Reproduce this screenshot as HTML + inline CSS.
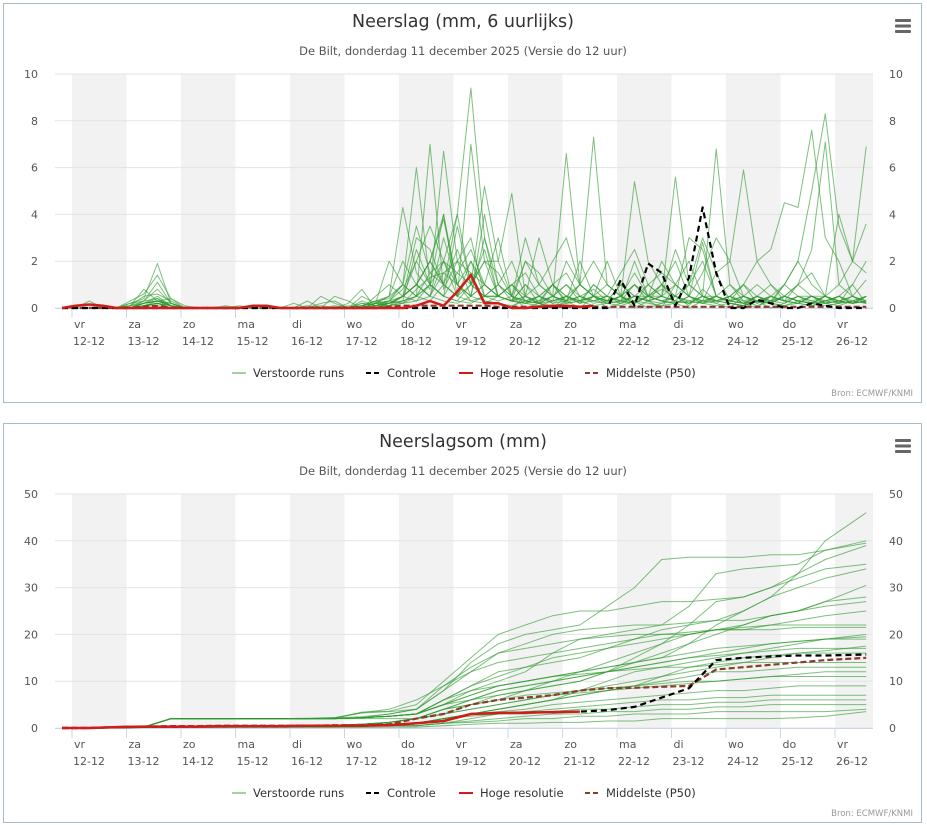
<!DOCTYPE html>
<html><head><meta charset="utf-8">
<style>
html,body{margin:0;padding:0;background:#fff;}
svg{display:block;font-family:"DejaVu Sans","Liberation Sans",sans-serif;}
</style></head>
<body>
<svg id="svg" width="927" height="825" xmlns="http://www.w3.org/2000/svg"></svg>
<script>
// ---------- DATA ----------
const dayNames = ["vr","za","zo","ma","di","wo","do","vr","za","zo","ma","di","wo","do","vr"];
const dayDates = ["12-12","13-12","14-12","15-12","16-12","17-12","18-12","19-12","20-12","21-12","22-12","23-12","24-12","25-12","26-12"];
const precipTicks = [0,2,4,6,8,10];
const cumTicks = [0,10,20,30,40,50];
// 6-hourly precipitation ensemble members (60 steps)
const precipMembers = [
[0,0,.3,0, 0,.2,.4,1.9, .2,0,0,0, 0,0,0,0, 0,0,0,0, 0,0,.1,.3, .4,1,.5,7, .8,2,1.5,.3, .2,0,.5,.2, 0,.3,1,.5, 0,.2,.5,.3, 1,.2,0,.3, .2,0,.5,.3, 0,.2,.5,.5, .2,.3,.2,.5],
[0,0,0,.1, 0,.3,.6,1.4, .4,0,0,0, .1,0,0,0, 0,0,0,.2, .3,0,0,.2, .5,4.3,1.5,.8, 6.7,2,.5,1, 3,.5,0,.2, 1,.3,0,.5, 2,.5,0,.3, 0,1,.5,.2, .3,.2,.1,.5, .2,1,.5,.3, .5,.2,1,.2],
[0,0,0,0, 0,.1,.8,.3, .4,.1,0,0, 0,0,0,0, 0,0,0,.5, .2,0,0,.5, 1,.5,3,2.5, 1,4,9.4,3, .5,1,.3,.2, 0,.5,.2,1, .5,.2,.3,0, .2,.5,.1,.8, .3,.5,.2,0, .5,.3,.2,.1, .3,.5,.2,.3],
[0,0,0,0, 0,.2,.3,1.1, .2,0,0,0, 0,.1,0,0, 0,0,.3,0, 0,0,.5,.2, 2,1,6,1, 4,.5,7,2, 1.5,.5,.3,.2, .5,1,.3,.5, .2,.5,1,.3, .5,.3,.2,.5, .5,.2,.1,.3, .2,.5,.3,.2, .1,.2,.3,.5],
[0,0,0,0, 0,.1,.5,.6, .3,0,0,0, 0,0,0,0, 0,0,.1,0, .5,.3,0,.1, .3,.8,2,3.5, 2,4,1,5.2, 2,4.9,.5,.3, 1,1.5,.5,.8, .3,1,.5,.5, 1,2,.5,.3, 1.5,.3,.5,.2, .5,.3,.2,.5, .3,.5,.2,.3],
[0,0,0,0, 0,0,.2,.5, .1,0,0,0, 0,0,0,0, 0,0,0,0, 0,.2,.8,0, .2,.5,1,2, 3.8,1,2,.5, .5,.3,1,.2, .5,6.6,1,.5, .3,.5,.2,1, .5,.3,1,.5, .2,.5,.3,.1, .3,.2,.5,.3, .2,.3,.5,.2],
[0,0,0,0, 0,.1,.2,.3, .2,0,0,0, 0,0,0,0, 0,.2,0,0, 0,0,.1,.3, .5,1,.5,1.5, 2,1,.5,3, 1,2,.5,1, 2,3,1,7.3, 1,.5,.3,.5, .3,.2,.5,.2, .5,.3,.2,.5, .2,.1,.3,.2, .5,.2,.3,.5],
[0,0,0,0, 0,0,.3,.8, .2,0,0,0, 0,0,0,0, 0,0,0,0, .1,0,.3,.1, .2,.5,1,2, 1,2.5,1,2, .5,.3,2,1.5, .5,.3,1,2, 1,.5,5.4,2, 1,.5,1,2, .5,.3,.2,.5, 1,.3,.5,.2, .3,.5,.2,.3],
[0,0,0,0, 0,.1,.3,.4, .1,0,0,0, 0,0,0,0, 0,0,0,.1, 0,0,0,.2, .3,.2,.8,1.3, 1.5,2,3,.5, 1,.5,.3,.5, 1,.2,.5,.3, .5,1.5,2.5,1, .5,5.6,1,.5, .3,.5,1,.2, .5,.3,1,.5, .2,.5,.3,.2],
[0,0,0,0, 0,0,.2,.3, .1,0,0,0, 0,0,0,0, 0,0,0,0, 0,0,.2,.1, .2,.3,.5,1, 2,1.5,1,.5, .5,1,1.5,.5, .3,.5,.2,.5, .3,1,.5,1, 1.5,1,2,.5, 6.8,1,.5,.3, .5,.3,.2,.5, .3,.2,.5,.3],
[0,0,0,0, 0,0,.1,.2, .1,0,0,0, 0,0,0,0, 0,0,0,0, 0,0,0,.2, .1,.5,1,.5, 1.5,1,.3,.5, .5,.3,.2,.5, .2,.3,.5,.3, .2,.3,.5,.3, .5,1,.5,1.5, 3,2,5.9,2, 1,.5,.3,.2, .5,.3,.2,.5],
[0,0,0,0, 0,0,.1,.2, 0,0,0,0, 0,0,0,0, 0,0,0,0, 0,0,.1,0, .1,.2,.5,.3, 1,.5,.3,.2, .5,.3,.2,.1, .3,.5,.2,.3, .5,.3,.2,.5, .3,.2,.5,.3, .3,.5,1,2, 2.5,4.5,4.3,7.6, 3,2,.5,.3],
[0,0,0,0, 0,0,.2,.4, .1,0,0,0, 0,0,0,0, 0,0,0,0, 0,.1,0,.2, .5,2,1,.5, 3,1,.5,4, 1,.3,.5,.2, .3,.5,1,.5, .2,.3,.5,.3, .5,.3,.2,.5, .3,.5,.2,.3, .5,1,2,5, 8.3,3.5,2,1.5],
[0,0,0,0, 0,0,.1,.3, .2,0,0,0, 0,0,0,0, 0,0,0,0, 0,0,.2,.1, .3,.5,2,1, .5,1.5,2.5,1, .5,1,.5,3, 1,.5,.3,.5, .5,.3,1,.5, .3,.5,.2,.3, .5,.3,.2,.5, .3,.5,1,2.5, 7.1,1,.5,.2],
[0,0,0,0, 0,0,.2,.3, .1,0,0,0, 0,0,0,0, 0,0,0,0, 0,0,.1,.2, .2,.5,1,.5, 2,.5,1,.5, 1,.5,2,1, .5,.3,2,.5, .3,.5,.2,.5, .3,.2,.5,.3, .5,.3,.5,.3, .2,.5,.3,.5, .5,1,2,6.9],
[0,0,0,0, 0,0,.1,.2, .1,0,0,0, 0,0,0,0, 0,0,0,0, 0,0,0,.1, .2,.3,.5,1, .5,.3,1,2.5, .5,1,.3,.5, .2,.5,.3,1, .5,.3,.2,.5, .3,.5,.3,.2, .5,.3,.5,.3, .2,.5,1,1.5, .5,4,2,3.6],
[0,0,0,0, 0,0,.2,.3, .1,0,0,0, 0,0,0,0, 0,0,0,0, 0,0,.1,.3, .2,.5,1,2, 1,.5,1.5,1, .5,.3,.2,.5, 1,.5,.3,.5, .3,.5,1,.5, .5,2.5,1,3, 1.5,2,.5,1, .5,.3,.2,.5, .2,.3,.5,1.2],
[0,0,0,0, 0,0,.1,.2, 0,0,0,0, 0,0,0,0, 0,0,0,0, 0,0,0,.1, .1,.3,2.5,1, .5,3.5,1,2, 2,.5,3,1, .5,.3,.5,.2, .3,.2,.5,.3, .2,.3,.2,.5, .3,.2,.1,.3, .2,.5,.3,.2, .5,.3,.2,.3],
[0,0,0,0, 0,0,.1,.1, 0,0,0,0, 0,0,0,0, 0,0,0,0, 0,0,0,0, .1,.2,.3,.5, .3,.2,.5,.3, .2,.1,.3,.2, .1,.2,.3,.1, .2,.1,.3,.2, .1,.2,.3,.2, .1,.2,.1,.3, .2,.1,.2,.1, .2,.1,.3,.2],
[0,0,0,0, 0,0,.1,.2, 0,0,0,0, 0,0,0,0, 0,0,0,0, 0,0,.1,0, .2,.5,.3,1, .5,.3,.2,.5, .3,.5,.2,.3, .5,.2,.3,.5, .3,.5,.2,.5, .8,.5,.3,.5, .3,.5,.2,.3, .2,.5,.3,.2, .3,.5,1,2],
[0,0,0,0, 0,0,.2,.3, .1,0,0,0, 0,0,0,0, 0,0,0,0, 0,0,0,.2, .3,1,3.5,1.5, 1,.5,2,1, .5,.3,1,.5, .3,2,1,.5, 1,.5,1.5,.5, 2,1,.5,2.8, .5,1,.3,.5, .3,1,2,1, .5,.3,.2,.5],
[0,0,0,0, 0,0,.1,.2, 0,0,0,0, 0,0,0,0, 0,0,0,0, 0,0,0,0, .2,.5,1,2, 4,1,.5,1, .5,.3,.5,.2, .5,1,.5,.3, .5,.3,2,.5, 1,.5,3,2.5, .5,.3,1,.5, .3,.5,.3,.2, .5,.3,.2,.5]
];
const precipControl = [0,0,0,0, 0,0,0,0, 0,0,0,0, 0,0,0,0, 0,0,0,0, 0,0,0,0, 0,0,0,0, 0,0,0,0, 0,0,0,0, 0,0,0,0, 0,1.2,.1,1.9, 1.5,.1,1.3,4.3, 1.5,0,0,.35, .2,0,0,.2, .1,0,0,0];
const precipHighRes = [0,.1,.15,.1, 0,0,0,0, 0,0,0,0, 0,0,.1,.1, 0,0,0,0, 0,0,0,0, 0,0,.1,.3, .1,.7,1.4,.2, .2,0,0,.05, .1,.1,.05,.1];
const precipMedian = [0,0,0,0, 0,0,.05,.1, 0,0,0,0, 0,0,0,0, 0,0,0,0, 0,0,0,0, .05,.1,.1,.1, .1,.1,.1,.1, .05,.05,.05,.05, .05,.05,.05,.05, .05,.05,.05,.05, .05,.05,.05,.05, .05,.05,.05,.05, .05,.05,.05,.05, .05,.05,.05,.05];

// cumulative: time index (6h units) of each point
const cumTimes = [0,2,4,6,8,10,12,14,16,18,20,22,24,26,28,30,32,34,36,38,40,42,44,46,48,50,52,54,56,59];
const cumMembers = [
[0,0,0,.2,2,2,2,2,2,2,2,2.2,2.5, 3,6,9,12,13,14,15,17,19,21,22,23,25,28,33,40,46],
[0,0,0,.2,2,2,2,2,2,2.1,2.2,2.4,3, 4,8,14,18,20,21,22,26,30,36,36.5,36.5,36.5,37,37,38,40],
[0,0,0,.2,2,2,2,2,2,2,2,2.2,2.5, 3,5,8,10,12,16,19,20,21,22,26,33,34,34.5,35,38,39.5],
[0,0,.1,.2,.3,.3,.4,.4,.5,.5,.6,.8,1.2, 2,4,6,8,9,10,11,12,15,18,22,27,28,30,33,36,39],
[0,0,0,.2,2,2,2,2,2,2,2.1,3.4,3.6, 5,10,15,20,22,24,25,25,26,27,27,27.5,28,30,32,34,35],
[0,0,0,.2,2,2,2,2,2,2,2,2.2,2.5, 3,5,7,9,10,11,12,13,14,15,18,22,25,28,30,32,34],
[0,0,.1,.2,.3,.3,.4,.4,.5,.5,.6,.8,1.2, 2,4,5,7,8,9,10,12,14,16,18,20,22,24,25,27,30.5],
[0,0,0,.2,2,2,2,2,2,2,2.2,3.2,3.5, 4,8,12,16,18,20,21,21.5,22,22,22.5,23,23,24,25,27,28],
[0,0,0,.2,2,2,2,2,2,2,2,2.2,2.5, 3,6,9,11,13,15,16,17,18,19,20,21,22,24,25,26,27],
[0,0,.1,.2,.3,.3,.4,.4,.5,.5,.6,.8,1.2, 2,3,5,6,8,10,12,14,16,18,20,21,21.5,22,22,22,22],
[0,0,0,.2,2,2,2,2,2,2,2.2,3.3,4, 6,9,12,14,15,16,17,18,19,20,20,21,21,21,21.5,21.5,21.5],
[0,0,.1,.2,.3,.3,.3,.4,.4,.5,.5,.6,.8, 1,2,3,4,5,6,8,10,12,13,14,15,16,17,18,19,20],
[0,0,0,.2,2,2,2,2,2,2,2,2.2,2.5, 3,5,7,9,10,11,12,13,14,15,16,17,17.5,18,18.5,19,19],
[0,0,.1,.2,.3,.3,.4,.4,.5,.5,.6,.8,1.2, 2,4,6,8,9,10,11,12,13,14,15,15.5,16,16.5,17,17,17],
[0,0,.1,.2,.3,.3,.3,.4,.4,.5,.5,.6,.8, 1,2,3,4,5,6,7,8,9,11,13,14,15,15.5,16,16,16],
[0,0,0,.2,2,2,2,2,2,2,2,2.2,2.5, 3,6,8,9,10,11,11.5,12,12.5,13,13,13.5,14,14,14,14,14],
[0,0,.1,.2,.3,.3,.3,.4,.4,.5,.5,.6,.8, 1,2,3,4,5,6,7,8,9,10,11,12,12,12.5,13,13,13],
[0,0,.1,.2,.3,.3,.4,.4,.5,.5,.6,.8,1.2, 2,4,5,6,7,7.5,8,8.5,9,9.5,10,10,10.5,11,11,11,11],
[0,0,.1,.2,.3,.3,.3,.4,.4,.5,.5,.6,.8, 1,2,3,3.5,4,5,5.5,6,6.5,7,7.5,8,8,8.5,9,9,9],
[0,0,.1,.2,.3,.3,.3,.4,.4,.5,.5,.6,.8, 1,2,2.5,3,3.5,4,4.5,5,5.5,6,6,6.5,6.5,7,7,7,7],
[0,0,0,.1,.2,.2,.2,.3,.3,.3,.3,.4,.5, .5,1,1.5,2,2.5,3,3,3.5,3.5,4,4,4.5,4.5,5,5,5,5],
[0,0,0,.1,.2,.2,.2,.3,.3,.3,.3,.4,.5, .5,1,1.2,1.5,2,2,2.5,2.5,3,3,3,3.5,3.5,3.5,3.5,3.5,4],
[0,0,0,.1,.1,.1,.1,.1,.1,.1,.1,.1,.2, .2,.5,.8,1,1,1.2,1.2,1.5,1.5,2,2,2,2,2,2.2,2.5,3.5],
[0,0,0,.2,2,2,2,2,2,2,2,2.2,3, 4,9,13,16,17,18,19,19.5,20,20,20.5,21,21,22,23,24,25],
[0,0,0,.2,2,2,2,2,2,2,2,2,2, 2,3,4,5,6,7,7.5,8,8.5,9,9.5,10,10.5,11,11.5,12,12],
[0,0,0,.1,.2,.2,.2,.3,.3,.3,.3,.4,.5, .5,1,2,3,3,3.5,4,4,4.5,5,5,5.5,5.5,6,6,6,6],
[0,0,0,.2,2,2,2,2,2,2,2,2.2,2.5, 3,5,6,7,8,9,10,12,13,14,15,16,17,18,18.5,19,19.5],
[0,0,.1,.2,.3,.3,.4,.4,.5,.5,.6,.8,1.2, 2,3,4,5,6,7,8,9,10,11,12,13,14,15,16,16.5,17.5]
];
const cumControl = [0,0,.2,.3,.3,.3,.4,.4,.4,.5,.5,.5,.6, 1,1.5,3,3.2,3.3,3.4,3.5,3.8,4.5,6.5,8.5,14.5,15,15.3,15.5,15.5,15.7];
const cumHighRes = [0,0,.2,.3,.3,.3,.4,.4,.4,.5,.5,.5,.6, 1,1.5,3,3.2,3.3,3.4,3.5];
const cumMedian = [0,0,.2,.3,.4,.4,.5,.5,.5,.5,.6,.6,.8, 2,3,5,6,6.5,7,8,8.5,8.6,8.8,9,12.5,13,13.5,14,14.5,15];

// ---------- RENDER ----------
const NS = "http://www.w3.org/2000/svg";
const svg = document.getElementById("svg");
function mk(tag, attrs, parent) {
  const e = document.createElementNS(NS, tag);
  for (const k in attrs) e.setAttribute(k, attrs[k]);
  (parent || svg).appendChild(e);
  return e;
}
const X0 = 55, X1 = 873, DAY0 = 72, DAYW = 54.5, TSTART = 62, TSTEP = 13.63;
function xDay(k) { return DAY0 + k * DAYW; }
function xT(t) { return TSTART + t * TSTEP; }

function panel(cfg) {
  const g = mk("g", {});
  
  
  const yS = v => cfg.yBot - (v / cfg.yMax) * (cfg.yBot - cfg.yTop);
  const frame = mk("rect", {x: 3.5, y: cfg.top + .5, width: 918, height: cfg.h, fill: "#fff", stroke: "#a7bccb", "stroke-width": 1}, g);
  
  
  const t = mk("text", {x: 463, y: cfg.top + 24, "text-anchor": "middle", "font-size": 17.5, fill: "#333"}, g);
  t.textContent = cfg.title;
  
  
  const st = mk("text", {x: 463, y: cfg.top + 52, "text-anchor": "middle", "font-size": 11.5, fill: "#555"}, g);
  st.textContent = "De Bilt, donderdag 11 december 2025 (Versie do 12 uur)";
  
  
  const menu = mk("g", {}, g);
  
  
  for (let i = 0; i < 3; i++) mk("rect", {x: 895, y: cfg.top + 16 + i * 5.5, width: 16, height: 3, rx: 1, fill: "#666"}, menu);
  for (let k = 0; k < dayNames.length; k += 2) {
    const b = mk("rect", {x: xDay(k), y: cfg.yTop, width: Math.min(DAYW, X1 - xDay(k)), height: cfg.yBot - cfg.yTop, fill: "#f2f2f2"}, g);
    
    
  }
  cfg.ticks.forEach(v => {
    const y = yS(v);
    mk("line", {x1: X0, x2: X1, y1: y, y2: y, stroke: "#e3e3e3", "stroke-width": 1}, g);
    const l = mk("text", {x: 38, y: y + 4, "text-anchor": "end", "font-size": 11, fill: "#555"}, g);
    l.textContent = v;
    
    
    const r = mk("text", {x: 889, y: y + 4, "text-anchor": "start", "font-size": 11, fill: "#555"}, g);
    r.textContent = v;
    
    
  });
  mk("line", {x1: X0, x2: X1, y1: cfg.yBot + .5, y2: cfg.yBot + .5, stroke: "#ccd6eb", "stroke-width": 1}, g);
  dayNames.forEach((d, k) => {
    const x = xDay(k);
    mk("line", {x1: x, x2: x, y1: cfg.yBot, y2: cfg.yBot + 10, stroke: "#ccd6eb"}, g);
    const a = mk("text", {x: x + 2, y: cfg.yBot + 20, "font-size": 11, fill: "#555"}, g);
    a.textContent = d;
    
    
    const b = mk("text", {x: x + 1, y: cfg.yBot + 37, "font-size": 11, fill: "#555"}, g);
    b.textContent = dayDates[k];
    
    
  });
  function line(vals, times, style, name) {
    const pts = vals.map((v, i) => xT(times ? times[i] : i).toFixed(1) + "," + yS(v).toFixed(1)).join(" ");
    const p = mk("polyline", Object.assign({points: pts, fill: "none", "stroke-linejoin": "round"}, style), g);
    
    
  }
  cfg.members.forEach(m => line(m, cfg.times, {stroke: "#2f9a2f", "stroke-width": 1, "stroke-opacity": .62}, "ensemble-member-line"));
  line(cfg.median, cfg.times, {stroke: "#8c3b2c", "stroke-width": 2.2, "stroke-dasharray": "6,3"}, "median-p50-line");
  line(cfg.control, cfg.times, {stroke: "#000", "stroke-width": 2.2, "stroke-dasharray": "6,4"}, "control-line");
  line(cfg.highres, cfg.times, {stroke: "#d21c1c", "stroke-width": 2.5}, "high-resolution-line");
  const ly = cfg.top + cfg.h - 25;
  const items = [
    {x: 232, label: "Verstoorde runs", stroke: "#2f9a2f", op: .45, dash: "", w: 2, name: "legend-perturbed-runs"},
    {x: 366, label: "Controle", stroke: "#000", op: 1, dash: "5,3", w: 2, name: "legend-control"},
    {x: 459, label: "Hoge resolutie", stroke: "#d21c1c", op: 1, dash: "", w: 2, name: "legend-high-resolution"},
    {x: 585, label: "Middelste (P50)", stroke: "#8c3b2c", op: 1, dash: "5,3", w: 2, name: "legend-median"}
  ];
  items.forEach(it => {
    const lg = mk("g", {}, g);
    
    
    mk("line", {x1: it.x, x2: it.x + 14, y1: ly - 4, y2: ly - 4, stroke: it.stroke, "stroke-opacity": it.op, "stroke-width": it.w, "stroke-dasharray": it.dash}, lg);
    const tx = mk("text", {x: it.x + 21, y: ly, "font-size": 11.5, fill: "#333"}, lg);
    tx.textContent = it.label;
  });
  const src = mk("text", {x: 913, y: cfg.top + cfg.h - 6, "text-anchor": "end", "font-size": 8.5, fill: "#999"}, g);
  src.textContent = "Bron: ECMWF/KNMI";
  
  
}

panel({name: "precipitation-chart", top: 3, h: 399, title: "Neerslag (mm, 6 uurlijks)", yTop: 74, yBot: 308, yMax: 10,
  ticks: precipTicks, members: precipMembers, control: precipControl, highres: precipHighRes, median: precipMedian, times: null});
panel({name: "cumulative-precipitation-chart", top: 423, h: 399, title: "Neerslagsom (mm)", yTop: 494, yBot: 728, yMax: 50,
  ticks: cumTicks, members: cumMembers, control: cumControl, highres: cumHighRes, median: cumMedian, times: cumTimes});
</script>
</body></html>
